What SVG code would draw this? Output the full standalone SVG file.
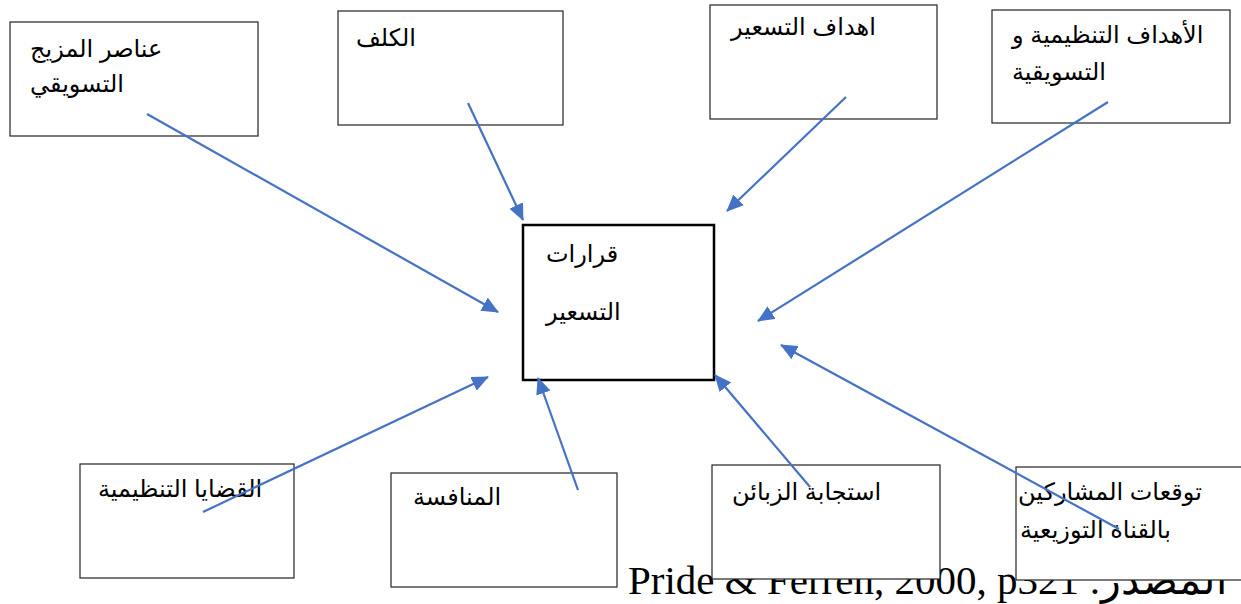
<svg xmlns="http://www.w3.org/2000/svg" width="1241" height="604" viewBox="0 0 1241 604">
<style>
.box{fill:#fff;stroke:#222;stroke-width:1.2}
.main{fill:#fff;stroke:#000;stroke-width:2.5}
.t{font-family:"Liberation Sans","DejaVu Sans",sans-serif;font-size:24px;fill:#000}
.cite{font-family:"Liberation Serif","DejaVu Serif",serif;font-size:41px;fill:#000}
.c{stroke:#4472C4;stroke-width:2.2;fill:none;marker-end:url(#ah)}
</style>
<defs>
<marker id="ah" markerUnits="userSpaceOnUse" markerWidth="17" markerHeight="15" refX="16" refY="7.5" orient="auto">
<path d="M0,0 L17,7.5 L0,15 Z" fill="#4472C4"/>
</marker>
</defs>
<rect width="1241" height="604" fill="#fff"/>
<text class="cite" x="628" y="594">Pride &amp; Ferren, 2000, p321 :المصدر</text>
<g id="n-center"><rect class="main" x="523" y="225" width="191" height="155"/>
<text class="t" x="546" y="262">قرارات</text><text class="t" x="546" y="320">التسعير</text></g>
<g id="n-mix"><rect class="box" x="10" y="22" width="248" height="114"/>
<text class="t" x="30" y="57">عناصر المزيج</text><text class="t" x="30" y="92">التسويقي</text></g>
<g id="n-cost"><rect class="box" x="338" y="11" width="225" height="114"/>
<text class="t" x="356" y="46">الكلف</text></g>
<g id="n-goals"><rect class="box" x="710" y="5" width="227" height="114"/>
<text class="t" x="731" y="35">اهداف التسعير</text></g>
<g id="n-org"><rect class="box" x="992" y="10" width="238" height="113"/>
<text class="t" x="1012" y="43">الأهداف التنظيمية و</text><text class="t" x="1012" y="80">التسويقية</text></g>
<g id="n-legal"><rect class="box" x="80" y="464" width="214" height="114"/>
<text class="t" x="98" y="497">القضايا التنظيمية</text></g>
<g id="n-comp"><rect class="box" x="391" y="473" width="226" height="114"/>
<text class="t" x="413" y="505">المنافسة</text></g>
<g id="n-cust"><rect class="box" x="712" y="465" width="228" height="114"/>
<text class="t" x="732" y="500">استجابة الزبائن</text></g>
<g id="n-chan"><rect class="box" x="1016" y="467" width="230" height="113"/>
<text class="t" x="1018" y="500">توقعات المشاركين</text><text class="t" x="1020" y="538">بالقناة التوزيعية</text></g>
<g id="connectors">
<line class="c" x1="147" y1="114" x2="498" y2="312"/>
<line class="c" x1="468" y1="103" x2="523" y2="220"/>
<line class="c" x1="846" y1="97" x2="727" y2="211"/>
<line class="c" x1="1108" y1="102" x2="758" y2="321"/>
<line class="c" x1="203" y1="512" x2="488" y2="377"/>
<line class="c" x1="578" y1="490" x2="538" y2="378"/>
<line class="c" x1="810" y1="487" x2="715" y2="375"/>
<line class="c" x1="1119" y1="529" x2="781" y2="345"/>
</g>
</svg>
